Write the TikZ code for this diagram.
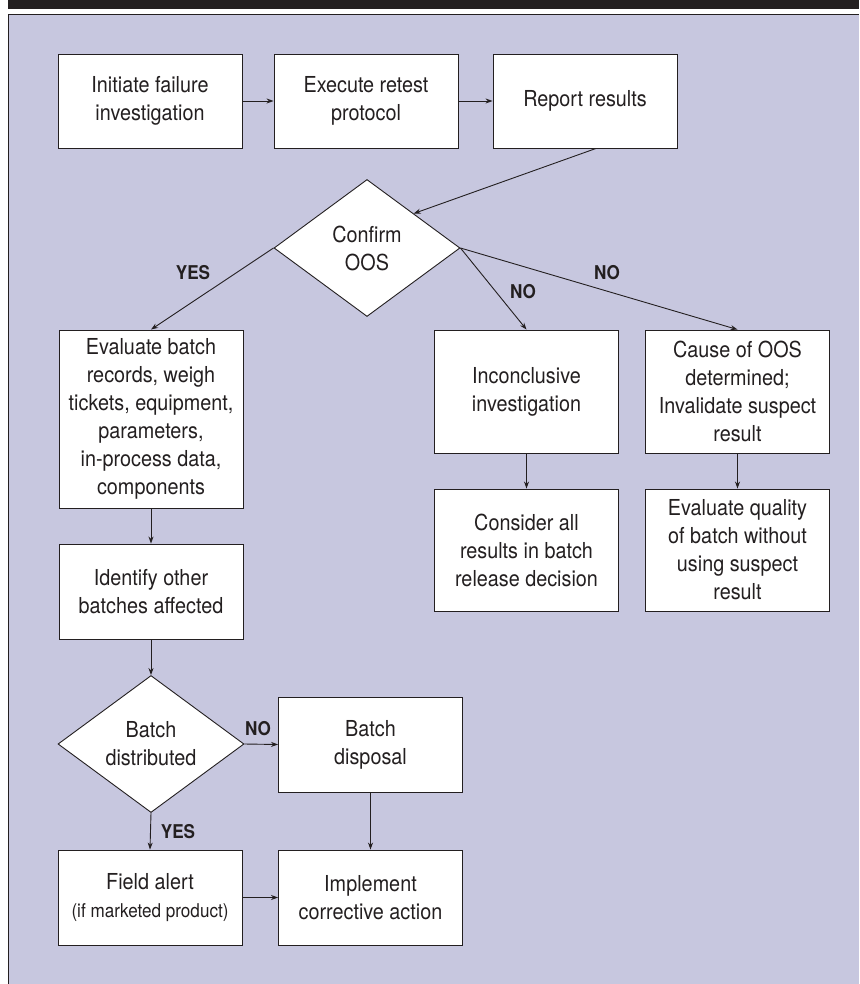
\documentclass[tikz,border=0pt]{standalone}
\usepackage{fontspec}
\setmainfont[FakeStretch=0.9]{TeX Gyre Heros}
\usetikzlibrary{shapes, shapes.geometric, arrows.meta, positioning}

\definecolor{panel}{RGB}{199,199,223}
\definecolor{ink}{RGB}{35,31,32}

\begin{document}
\begin{tikzpicture}[x=1pt, y=-1pt,
  box/.style={rectangle, draw=ink, line width=0.9pt, fill=white, text=ink, align=center,
    minimum width=184pt, inner sep=2pt, font=\fontsize{22}{28}\selectfont},
  decide/.style={diamond, draw=ink, line width=0.9pt, fill=white, text=ink, align=center,
    minimum width=186pt, minimum height=137pt, inner sep=0pt, font=\fontsize{22}{28}\selectfont},
  link/.style={draw=ink, line width=0.9pt, -{Stealth[length=7pt, width=5pt]}},
  answer/.style={text=ink, font=\fontsize{19}{22}\bfseries}]
\useasboundingbox (0,0) rectangle (859,984);
\fill[ink] (8,0) rectangle (859,9);
\fill[panel] (8,15) rectangle (859,984);
\draw[ink, line width=1pt] (8,984) -- (8,15) -- (859,15);

\node[box, minimum height=94pt] (init) at (150,101) {Initiate failure\\investigation};
\node[box, minimum height=94pt] (retest) at (366,101) {Execute retest\\protocol};
\node[box, minimum height=94pt] (report) at (585,101) {Report results};

\node[decide] (confirm) at (367,248) {Confirm\\OOS};

\node[box, minimum height=178pt] (evaluate) at (151,419) {Evaluate batch\\records, weigh\\tickets, equipment,\\parameters,\\in-process data,\\components};
\node[box, minimum height=123pt] (inconcl) at (526.5,391.5) {Inconclusive\\investigation};
\node[box, minimum height=123pt] (cause) at (737.5,391.5) {Cause of OOS\\determined;\\Invalidate suspect\\result};
\node[box, minimum height=122pt] (consider) at (526.5,550) {Consider all\\results in batch\\release decision};
\node[box, minimum height=122pt] (quality) at (737.5,550) {Evaluate quality\\of batch without\\using suspect\\result};

\node[box, minimum height=95pt] (identify) at (151,591.5) {Identify other\\batches affected};
\node[decide] (distrib) at (151,744) {Batch\\distributed};
\node[box, minimum height=95pt] (disposal) at (370.5,744.5) {Batch\\disposal};
\node[box, minimum height=95pt] (alert) at (150,897.5) {Field alert\\{\fontsize{19}{28}\selectfont(if marketed product)}};
\node[box, minimum height=95pt] (implement) at (370.5,897.5) {Implement\\corrective action};

\draw[link] (init) -- (retest);
\draw[link] (retest) -- (report);
\draw[link] ([xshift=11pt]report.south) -- (confirm.north east);
\draw[link] (confirm.west) -- (evaluate.north);
\draw[link] (confirm.east) -- (inconcl.north);
\draw[link] (confirm.east) -- (cause.north);
\draw[link] (inconcl) -- (consider);
\draw[link] (cause) -- (quality);
\draw[link] (evaluate) -- (identify);
\draw[link] (identify) -- (distrib);
\draw[link] (distrib.east) -- (disposal.west);
\draw[link] (distrib.south) -- (alert.north);
\draw[link] (alert) -- (implement);
\draw[link] (disposal) -- (implement);

\node[answer] (yes1) at (193,273) {YES};
\node[answer] (no1) at (523,292) {NO};
\node[answer] (no2) at (607,273) {NO};
\node[answer] (no3) at (258,729) {NO};
\node[answer] (yes2) at (178,832) {YES};
\end{tikzpicture}
\end{document}
